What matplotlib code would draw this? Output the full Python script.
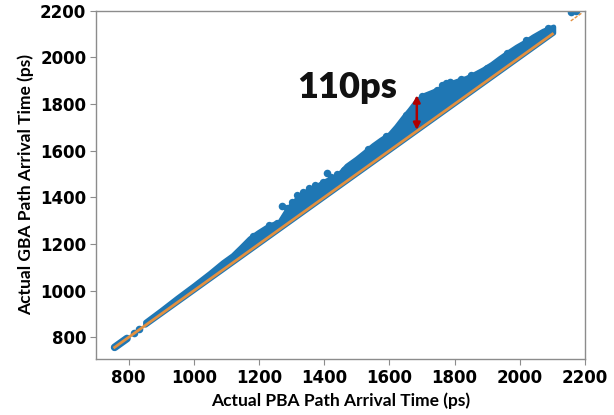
import matplotlib

matplotlib.use("Agg")
import matplotlib.pyplot as plt
import numpy as np

# PBA (x) vs GBA (y) arrival times (ps)
# upper edge of the dense scatter band (point centres)
band_pba = [852, 900, 950, 1000, 1050, 1090, 1120, 1145, 1172, 1198, 1223,
            1245, 1264, 1290, 1305, 1325, 1346, 1366, 1387, 1407, 1428, 1448,
            1470, 1500, 1525, 1551, 1575, 1602, 1622, 1643, 1663, 1684, 1710,
            1735, 1760, 1786, 1810, 1837, 1862, 1889, 1915, 1940, 1965, 1991,
            2016, 2042, 2072, 2104]
band_gba = [864, 914, 968, 1020, 1074, 1120, 1150, 1184, 1222, 1248, 1270,
            1284, 1294, 1352, 1374, 1404, 1424, 1437, 1454, 1470, 1484, 1500,
            1534, 1564, 1592, 1622, 1646, 1670, 1702, 1740, 1774, 1812, 1838,
            1852, 1868, 1886, 1898, 1910, 1927, 1947, 1970, 1996, 2020, 2044,
            2064, 2088, 2112, 2130]
# scatter points sticking out of the band edge
edge_pba = [1135, 1180, 1230, 1255, 1285, 1300, 1318, 1335, 1352, 1372,
            1395, 1420, 1440, 1462, 1485, 1535, 1590, 1650, 1700, 1745,
            1760, 1775, 1820, 1850, 1900, 1960, 2020, 2085]
edge_gba = [1162, 1234, 1280, 1292, 1356, 1382, 1410, 1424, 1440, 1452,
            1467, 1488, 1500, 1517, 1544, 1607, 1664, 1752, 1835, 1860,
            1880, 1890, 1908, 1926, 1956, 2018, 2074, 2124]
# thin start of the band and isolated paths
seg_pba = [757, 795]
dot_pba = [816, 832, 1272, 1407, 1786, 2158, 2172]
dot_gba = [818, 834, 1364, 1503, 1896, 2193, 2198]
# reference line y = x
ref_pba = [757, 2100]
tail_start = [2158, 2170, 2182]
tail_end = [2163, 2175, 2187]

# annotation
gap_x = 1684
gap_lo, gap_hi = 1689, 1838
gap_text = "110ps"

BLUE = "#1f77b4"
ORANGE = "#e39040"
SPINE = "#8c8c8c"

fig = plt.figure(figsize=(6.14, 4.15), dpi=100)
ax = fig.add_axes([0.1564, 0.1349, 0.7964, 0.8393])

# dense band: polygon between the y=x diagonal and the upper edge
px = np.array(band_pba, dtype=float)
poly_x = np.concatenate([px, px[::-1]])
poly_y = np.concatenate([np.array(band_gba, dtype=float), px[::-1]])
ax.fill(poly_x, poly_y, color=BLUE, lw=3.6, ec=BLUE, joinstyle="round",
        zorder=2)
ax.plot(seg_pba, seg_pba, color=BLUE, lw=5.5, solid_capstyle="round", zorder=2)
ax.scatter(edge_pba, edge_gba, s=28, color=BLUE, lw=0, zorder=2)
ax.scatter(dot_pba, dot_gba, s=30, color=BLUE, lw=0, zorder=2)

# reference diagonal
ax.plot(ref_pba, ref_pba, color=ORANGE, lw=2.0, zorder=3)
for a, b in zip(tail_start, tail_end):
    ax.plot([a, b], [a, b], color=ORANGE, lw=1.0, zorder=3)

ax.annotate("", xy=(gap_x, gap_hi), xytext=(gap_x, gap_lo),
            arrowprops=dict(arrowstyle="<|-|>", color="#b00000", lw=1.8,
                            mutation_scale=10, shrinkA=0, shrinkB=0),
            zorder=4)
ax.text(1470, 1824, gap_text, ha="center", va="baseline", fontsize=26,
        fontweight="heavy", family="Lato", color="#111111")

ax.set_xlim(700, 2200)
ax.set_ylim(707, 2200)
ticks = [800, 1000, 1200, 1400, 1600, 1800, 2000, 2200]
ax.set_xticks(ticks)
ax.set_yticks(ticks)
for lab in ax.get_xticklabels() + ax.get_yticklabels():
    lab.set_fontweight("bold")
    lab.set_fontsize(12)
ax.tick_params(length=4, width=0.8, color=SPINE, pad=3)
for s in ax.spines.values():
    s.set_color(SPINE)
    s.set_linewidth(1.0)

ax.set_xlabel("Actual PBA Path Arrival Time (ps)", family="Lato",
              fontweight="bold", fontsize=12.5, labelpad=4)
ax.set_ylabel("Actual GBA Path Arrival Time (ps)", family="Lato",
              fontweight="bold", fontsize=12.5, labelpad=4)

fig.savefig("out.png", dpi=100, facecolor="white")
